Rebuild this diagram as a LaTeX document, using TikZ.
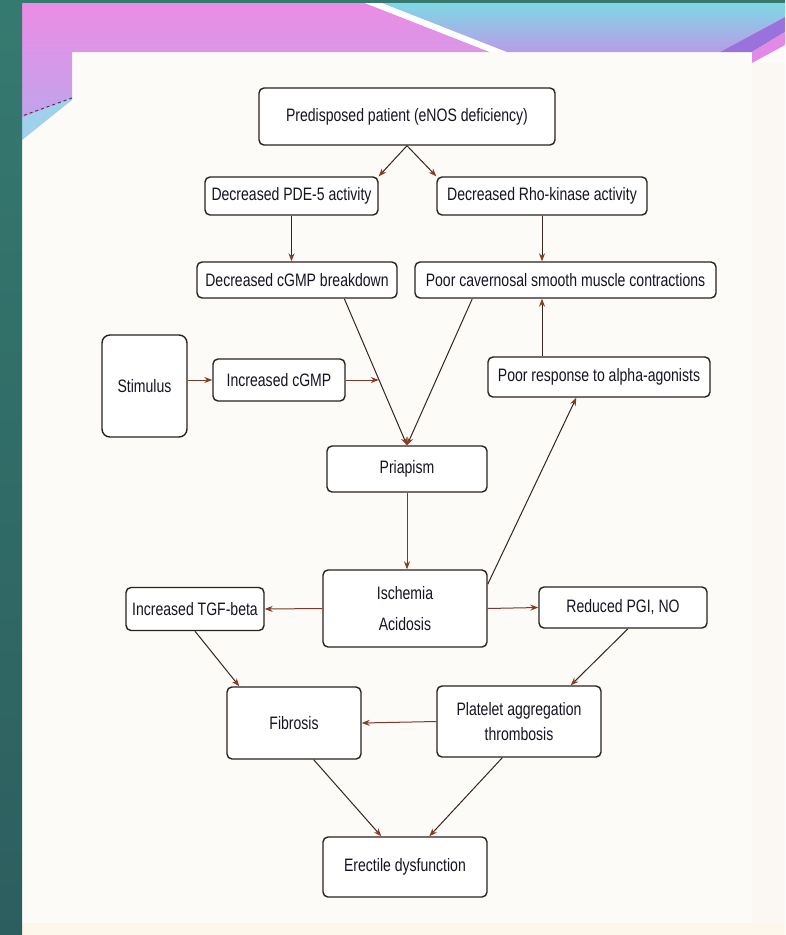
\documentclass[tikz,border=0pt]{standalone}
\usepackage{fontspec}
\setmainfont{Liberation Sans}[FakeStretch=0.78]
\usetikzlibrary{arrows.meta,calc}
\definecolor{bgc}{HTML}{FDFBF7}
\definecolor{tealt}{HTML}{357A70}
\definecolor{tealb}{HTML}{2D5E5F}
\definecolor{pinkt}{HTML}{EC8CE4}
\definecolor{pinkb}{HTML}{C0A4EC}
\definecolor{bluel}{HTML}{9FD0EC}
\definecolor{cyant}{HTML}{7FD8E4}
\definecolor{purpb}{HTML}{B89CE8}
\definecolor{purpd}{HTML}{9A72DC}
\definecolor{pinkr}{HTML}{E08AE6}
\definecolor{boxc}{HTML}{2A221E}
\definecolor{txtc}{HTML}{151522}
\definecolor{linec}{HTML}{33261F}
\definecolor{redline}{HTML}{7A3A2A}
\definecolor{tipc}{HTML}{8A3B24}
\definecolor{margc}{HTML}{FBF8F3}
\definecolor{botc}{HTML}{FCF7EA}
\definecolor{dashc}{HTML}{5A3050}
\begin{document}
\begin{tikzpicture}[x=1pt,y=-1pt,
  box/.style={draw=boxc, line width=1.4pt, rounded corners=5pt, fill=white,
    inner sep=0pt, align=center, text=txtc, font=\fontsize{18}{21}\selectfont},
  sz/.style 2 args={minimum width=#1pt, minimum height=#2pt},
  conn/.style={draw=linec, line width=1pt, -{Stealth[length=8pt,width=6pt,color=tipc]}},
  connr/.style={conn, draw=redline}]
\useasboundingbox (0,0) rectangle (785,935);
% ---------- background ----------
\fill[bgc] (0,0) rectangle (785,935);
\fill[margc] (752,63) rectangle (785,935);
\fill[botc] (22,923) rectangle (785,935);
\shade[top color=pinkt, bottom color=pinkb] (22,3) -- (365,3) -- (490,52) -- (72,52) -- (72,98) -- (22,118) -- cycle;
\fill[bluel] (22,118) -- (72,98) -- (72,100) -- (22,140) -- cycle;
\draw[dashc, dashed, line width=1pt] (72,98) -- (22,116);
\fill[white] (365,3) -- (382,3) -- (507,52) -- (490,52) -- cycle;
\shade[top color=cyant, bottom color=purpb] (382,3) -- (785,3) -- (785,17) -- (720,52) -- (507,52) -- cycle;
\fill[purpd] (720,52) -- (785,17) -- (785,32) -- (752,52) -- cycle;
\fill[pinkr] (752,52) -- (785,32) -- (785,45) -- (752,63) -- cycle;
\shade[top color=tealt, bottom color=tealb] (0,0) rectangle (22,935);
\fill[tealt] (0,0) rectangle (785,3);
% ---------- nodes ----------
\node[box, sz={296}{57}] (pred) at (407,116.5) {Predisposed patient (eNOS deficiency)};
\node[box, sz={173}{38}] (pde) at (291.5,196) {Decreased PDE-5 activity};
\node[box, sz={210}{38}] (rho) at (542,196) {Decreased Rho-kinase activity};
\node[box, sz={200}{36}] (cgmpb) at (297,280) {Decreased cGMP breakdown};
\node[box, sz={301}{36}] (cav) at (565.5,280) {Poor cavernosal smooth muscle contractions};
\node[box, sz={85}{102}, rounded corners=8pt] (stim) at (144.5,386) {Stimulus};
\node[box, sz={132}{42}] (icgmp) at (279,380) {Increased cGMP};
\node[box, sz={222}{40}] (poorresp) at (599,377) {Poor response to alpha-agonists};
\node[box, sz={160}{46}] (pria) at (407,469) {Priapism};
\node[box, sz={164}{77}, font=\fontsize{18}{31}\selectfont] (isch) at (405,608.5) {Ischemia\\Acidosis};
\node[box, sz={138}{43}] (tgf) at (195,609) {Increased TGF-beta};
\node[box, sz={168}{41}] (pgi) at (623,607.5) {Reduced PGI, NO};
\node[box, sz={134}{72}] (fib) at (294,723) {Fibrosis};
\node[box, sz={164}{71}, font=\fontsize{18}{25}\selectfont] (plat) at (519,721.5) {Platelet aggregation\\thrombosis};
\node[box, sz={164}{60}] (ed) at (405,867) {Erectile dysfunction};
% ---------- connectors ----------
\draw[conn] (pred.south) -- (pde.north east);
\draw[conn] (pred.south) -- (rho.north west);
\draw[conn] (pde.south) -- (pde.south |- cgmpb.north);
\draw[conn] (rho.south) -- (rho.south |- cav.north);
\coordinate (c1) at ($(cgmpb.south west)+(148,0)$);
\coordinate (c2) at ($(cav.south west)+(58,0)$);
\draw[conn] (c1) -- (pria.north);
\draw[conn] (c2) -- (pria.north);
\coordinate (j1) at ($(c1)!0.55!(pria.north)$);
\draw[connr] (stim.east |- icgmp.west) -- (icgmp.west);
\draw[connr] (icgmp.east) -- (icgmp.east -| j1);
\draw[conn] (poorresp.north -| rho.south) -- (cav.south -| rho.south);
\coordinate (i1) at ($(isch.north east)+(0,15)$);
\draw[conn] (i1) -- ($(poorresp.south west)+(89,0)$);
\draw[connr] (pria.south) -- (pria.south |- isch.north);
\draw[connr] (isch.west) -- (tgf.east);
\draw[connr] (isch.east) -- (pgi.west);
\draw[conn] (tgf.south) -- ($(fib.north west)+(13,0)$);
\draw[conn] ($(pgi.south)+(5,0)$) -- ($(plat.north east)+(-31,0)$);
\draw[connr] (plat.west) -- (fib.east);
\draw[conn] ($(fib.south east)+(-48,0)$) -- ($(ed.north west)+(59,0)$);
\draw[conn] ($(plat.south west)+(66,0)$) -- ($(ed.north west)+(107,0)$);
\end{tikzpicture}
\end{document}
